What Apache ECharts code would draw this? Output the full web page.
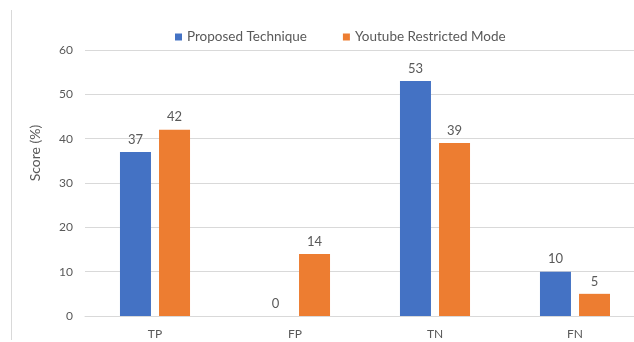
<!DOCTYPE html>
<html>
<head>
<meta charset="utf-8">
<script src="https://cdn.jsdelivr.net/npm/echarts@6/dist/echarts.min.js"></script>
<style>html,body{margin:0;padding:0;background:#fff;}#c{width:634px;height:342px;}</style>
</head>
<body>
<div id="c"></div>
<script>
const categories = ['TP', 'FP', 'TN', 'FN'];
const proposedValues = [37, 0, 53, 10];
const youtubeValues = [42, 14, 39, 5];
const seriesNames = ['Proposed Technique', 'Youtube Restricted Mode'];
const yAxisTitle = 'Score (%)';

const chart = echarts.init(document.getElementById('c'));
const font = 'Lato';
const txt = '#595959';
chart.setOption({
  animation: false,
  color: ['#4472C4', '#ED7D31'],
  textStyle: { fontFamily: font },
  graphic: [{
    type: 'line', shape: { x1: 11.5, y1: 10, x2: 11.5, y2: 340 },
    style: { stroke: '#D9D9D9', lineWidth: 1 }
  }, {
    type: 'text', x: 35, y: 153, rotation: Math.PI / 2,
    style: { text: yAxisTitle, fill: txt, font: '14px Lato', textAlign: 'center', textVerticalAlign: 'middle' }
  }],
  legend: {
    top: 25, left: 170,
    itemWidth: 7, itemHeight: 7, itemGap: 36,
    icon: 'rect',
    textStyle: { color: txt, fontSize: 13.5, fontFamily: font }
  },
  grid: { left: 85, width: 560, top: 50, bottom: 26, outerBoundsMode: 'none', containLabel: false },
  xAxis: {
    type: 'category', data: categories,
    axisLine: { lineStyle: { color: '#D9D9D9' } },
    axisTick: { show: false },
    axisLabel: { color: txt, fontSize: 12, margin: 12, fontFamily: font }
  },
  yAxis: {
    type: 'value', min: 0, max: 60, interval: 10,
    axisLine: { show: false }, axisTick: { show: false },
    splitLine: { lineStyle: { color: '#D9D9D9' } },
    axisLabel: { color: txt, fontSize: 12, margin: 12, fontFamily: font }
  },
  series: [
    { name: seriesNames[0], type: 'bar', data: proposedValues, barWidth: 31, barGap: '26%',
      label: { show: true, position: 'top', distance: 6, color: txt, fontSize: 13, fontFamily: font } },
    { name: seriesNames[1], type: 'bar', data: youtubeValues, barWidth: 31,
      label: { show: true, position: 'top', distance: 6, color: txt, fontSize: 13, fontFamily: font } }
  ]
});
</script>
</body>
</html>
